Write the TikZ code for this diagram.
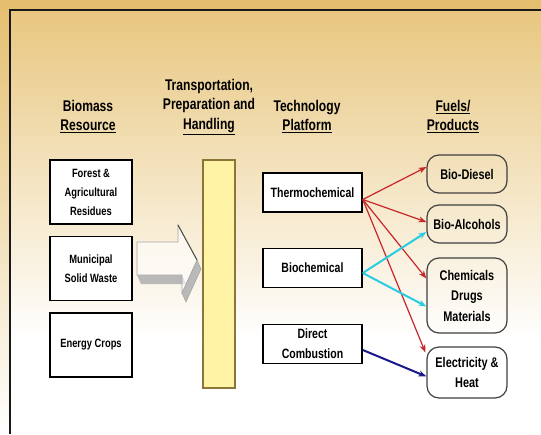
\documentclass[tikz,border=0pt]{standalone}
\usepackage{fontspec}
\setmainfont{Liberation Sans}[FakeStretch=0.78]
\usetikzlibrary{arrows.meta}

\definecolor{gold}{RGB}{229,190,110}
\definecolor{goldin}{RGB}{232,199,128}
\definecolor{barfill}{RGB}{255,244,165}
\definecolor{barline}{RGB}{140,118,55}
\definecolor{redlink}{RGB}{200,38,40}
\definecolor{cyanlink}{RGB}{40,205,225}
\definecolor{navylink}{RGB}{25,25,140}

\begin{document}
\begin{tikzpicture}[x=1pt,y=-1pt,
  hdr/.style={font=\fontsize{15.5}{19.5}\selectfont\bfseries, align=center},
  srcbox/.style={draw, line width=1.8pt, fill=white, minimum width=82pt, minimum height=64pt, inner sep=1pt, align=center, font=\fontsize{12}{19}\selectfont\bfseries},
  techbox/.style={draw, line width=1.6pt, fill=white, minimum width=99pt, minimum height=39pt, inner sep=1pt, align=center, font=\fontsize{13.5}{20}\selectfont\bfseries},
  prodbox/.style={draw=black!75, line width=1.2pt, rounded corners=12pt, minimum width=80pt, inner sep=1pt, align=center, font=\fontsize{14}{20.5}\selectfont\bfseries},
  link/.style={-{Stealth[length=8pt,width=6pt]}, line width=1.2pt}
]
\useasboundingbox (0,0) rectangle (541,434);

% background and frame
\shade[top color=gold, bottom color=white] (0,0) rectangle (541,434);
\shade[top color=goldin, bottom color=white] (10,10) rectangle (541,340);
\fill[white] (10,339) rectangle (541,434);
\draw[line width=2.2pt, black!90] (10,434) -- (10,10) -- (541,10);

% headers
\node[hdr] (hbio) at (88,116.5) {Biomass\\\underline{Resource}};
\node[hdr] (htrans) at (209,107) {Transportation,\\Preparation and\\\underline{Handling}};
\node[hdr] (htech) at (307,116.5) {Technology\\\underline{Platform}};
\node[hdr] (hfuel) at (453,116.5) {\underline{Fuels/}\\\underline{Products}};

% biomass resources
\node[srcbox] (forest) at (91,192) {Forest \&\\Agricultural\\Residues};
\node[srcbox] (msw) at (91,268.5) {Municipal\\Solid Waste};
\node[srcbox] (crops) at (91,345) {Energy Crops};

% block arrow
\fill[gray!55] (137,275) -- (182,275) -- (186,284) -- (141,284) -- cycle;
\fill[gray!55, draw=gray!80, line width=0.4pt] (197,260) -- (182,293) -- (186,302) -- (201,269) -- cycle;
\filldraw[fill=white, fill opacity=0.6, draw=gray!70, line width=0.6pt]
  (137,242) -- (178,242) -- (178,225) -- (197,260) -- (182,293) -- (182,275) -- (137,275) -- cycle;
\draw[black!70, line width=1pt] (178,225) -- (197,260);

% transport bar
\node[draw=barline, fill=barfill, line width=1.2pt, minimum width=32pt, minimum height=228pt, inner sep=0pt] (bar) at (219,274) {};

% technology platforms
\node[techbox] (thermo) at (312.5,192.5) {Thermochemical};
\node[techbox] (bioc) at (312.5,268) {Biochemical};
\node[techbox] (direct) at (312.5,344) {Direct\\Combustion};

% fuels and products
\node[prodbox, minimum height=38pt] (diesel) at (467,174) {Bio-Diesel};
\node[prodbox, minimum height=38pt] (alco) at (467,224) {Bio-Alcohols};
\node[prodbox, minimum height=75pt] (chem) at (467,295.5) {Chemicals\\Drugs\\Materials};
\node[prodbox, minimum height=51pt] (elec) at (467,372.5) {Electricity \&\\Heat};

% links
\coordinate (tout) at ([yshift=-7pt]thermo.east);
\coordinate (bout) at ([yshift=-5pt]bioc.east);
\coordinate (dout) at ([yshift=-6pt]direct.east);
\draw[link, redlink] (tout) -- ([yshift=7pt]diesel.west);
\draw[link, redlink] (tout) -- ([yshift=2pt]alco.west);
\draw[link, redlink] (tout) -- ([yshift=17pt]chem.west);
\draw[link, redlink] (tout) -- ([xshift=-1pt,yshift=20pt]elec.west);
\draw[link, cyanlink, line width=2pt] (bout) -- ([yshift=-8pt]alco.west);
\draw[link, cyanlink, line width=2pt] (bout) -- ([yshift=-11pt]chem.west);
\draw[link, navylink, line width=2pt] (dout) -- ([yshift=-4pt]elec.west);
\end{tikzpicture}
\end{document}
